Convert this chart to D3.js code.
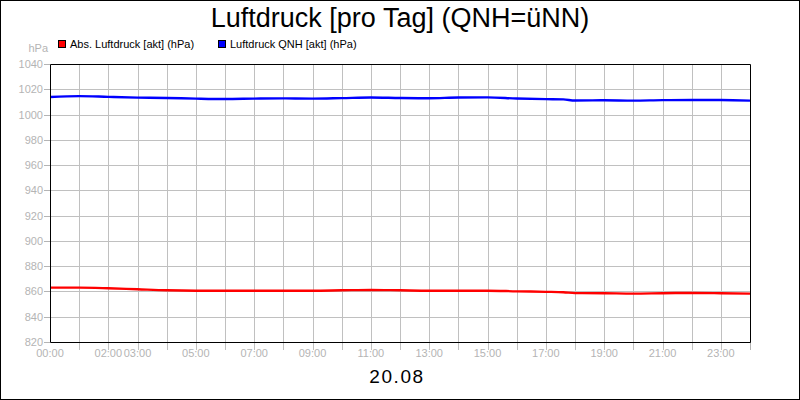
<!DOCTYPE html>
<html><head><meta charset="utf-8">
<script src="https://cdn.jsdelivr.net/npm/d3@7"></script>
<style>body{margin:0;background:#fff}svg{display:block}</style>
</head><body>
<svg id="c" width="800" height="400"></svg>
<script>
const hours = [0,1,2,3,4,5,6,7,8,9,10,11,12,13,14,15,16,17,17.6,18,19,20,21,22,23,24];
const qnh = [1013.9,1014.6,1014.0,1013.4,1013.1,1012.6,1012.3,1012.6,1012.8,1012.6,1013.0,1013.5,1013.1,1012.9,1013.5,1013.6,1012.7,1012.2,1012.0,1011.1,1011.3,1011.0,1011.4,1011.5,1011.5,1011.0];
const abs = [863.0,863.0,862.5,861.7,860.9,860.6,860.6,860.6,860.6,860.6,860.9,861.2,860.9,860.6,860.6,860.6,860.1,859.7,859.4,858.7,858.6,858.3,858.6,858.8,858.6,858.3];
const yTicks = [820,840,860,880,900,920,940,960,980,1000,1020,1040];
const xLabels = ["00:00","02:00","03:00","05:00","07:00","09:00","11:00","13:00","15:00","17:00","19:00","21:00","23:00"];
const xLabelHours = [0,2,3,5,7,9,11,13,15,17,19,21,23];
const seriesNames = ["Abs. Luftdruck [akt] (hPa)","Luftdruck QNH [akt] (hPa)"];
const seriesColors = ["#ff0000","#0000ff"];

const svg = d3.select("#c");
const L=50,R=750,T=64,B=342;
const x = d3.scaleLinear().domain([0,24]).range([L,R]);
const y = d3.scaleLinear().domain([820,1040]).range([B,T]);
const font = "'Liberation Sans', Arial, sans-serif";
const grey = "#b4b4b4";

svg.append("rect").attr("x",0.5).attr("y",0.5).attr("width",799).attr("height",399).attr("fill","#fff").attr("stroke","#000");

// grid
const g = svg.append("g");
g.selectAll(".hg").data(yTicks.slice(1,-1)).join("line")
 .attr("x1",L).attr("x2",R).attr("y1",d=>Math.round(y(d))+0.5).attr("y2",d=>Math.round(y(d))+0.5)
 .attr("stroke","#c0c0c0");
g.selectAll(".vg").data(d3.range(1,24)).join("line")
 .attr("x1",d=>Math.round(x(d))+0.5).attr("x2",d=>Math.round(x(d))+0.5).attr("y1",T).attr("y2",B+8)
 .attr("stroke","#c0c0c0");

// y axis ticks & labels
svg.selectAll(".yt").data(yTicks).join("line")
 .attr("x1",L-6).attr("x2",L).attr("y1",d=>Math.round(y(d))+0.5).attr("y2",d=>Math.round(y(d))+0.5).attr("stroke",grey);
svg.selectAll(".yl").data(yTicks).join("text")
 .attr("x",L-7).attr("y",d=>y(d)+4).attr("text-anchor","end")
 .attr("font-family",font).attr("font-size",11).attr("fill",grey).text(d=>d);
svg.append("text").attr("x",48).attr("y",52).attr("text-anchor","end")
 .attr("font-family",font).attr("font-size",11).attr("fill",grey).text("hPa");
// x labels
svg.selectAll(".xl").data(xLabels).join("text")
 .attr("x",(d,i)=>x(xLabelHours[i])).attr("y",357).attr("text-anchor","middle")
 .attr("font-family",font).attr("font-size",11).attr("fill",grey).text(d=>d);
svg.append("line").attr("x1",R+0.5).attr("x2",R+0.5).attr("y1",B).attr("y2",B+8).attr("stroke",grey);

// lines
const line = d3.line().x((d,i)=>x(hours[i])).y(d=>y(d)).curve(d3.curveMonotoneX);
[abs,qnh].forEach((s,k)=>{
  svg.append("path").datum(s).attr("d",line).attr("fill","none")
   .attr("stroke",seriesColors[k]).attr("stroke-width",2.4).attr("stroke-linejoin","round");
});

// plot frame
svg.append("path").attr("d",`M${L+0.5},${T+0.5}H${R+0.5}V${B+0.5}H${L+0.5}Z`).attr("fill","none").attr("stroke","#000");

// title
svg.append("text").attr("x",400).attr("y",27).attr("text-anchor","middle")
 .attr("font-family",font).attr("font-size",27).attr("fill","#000").text("Luftdruck [pro Tag] (QNH=üNN)");
// legend
const legX=[58,218];
seriesNames.forEach((n,k)=>{
  svg.append("rect").attr("x",legX[k]+0.5).attr("y",40.5).attr("width",7).attr("height",7)
   .attr("fill",seriesColors[k]).attr("stroke","#000");
  svg.append("text").attr("x",legX[k]+12).attr("y",48).attr("font-family",font).attr("font-size",11).attr("fill","#000").text(n);
});
// date
svg.append("text").attr("x",397).attr("y",383).attr("text-anchor","middle")
 .attr("font-family",font).attr("font-size",19).attr("letter-spacing",1.6).attr("fill","#000").text("20.08");
</script>
</body></html>
